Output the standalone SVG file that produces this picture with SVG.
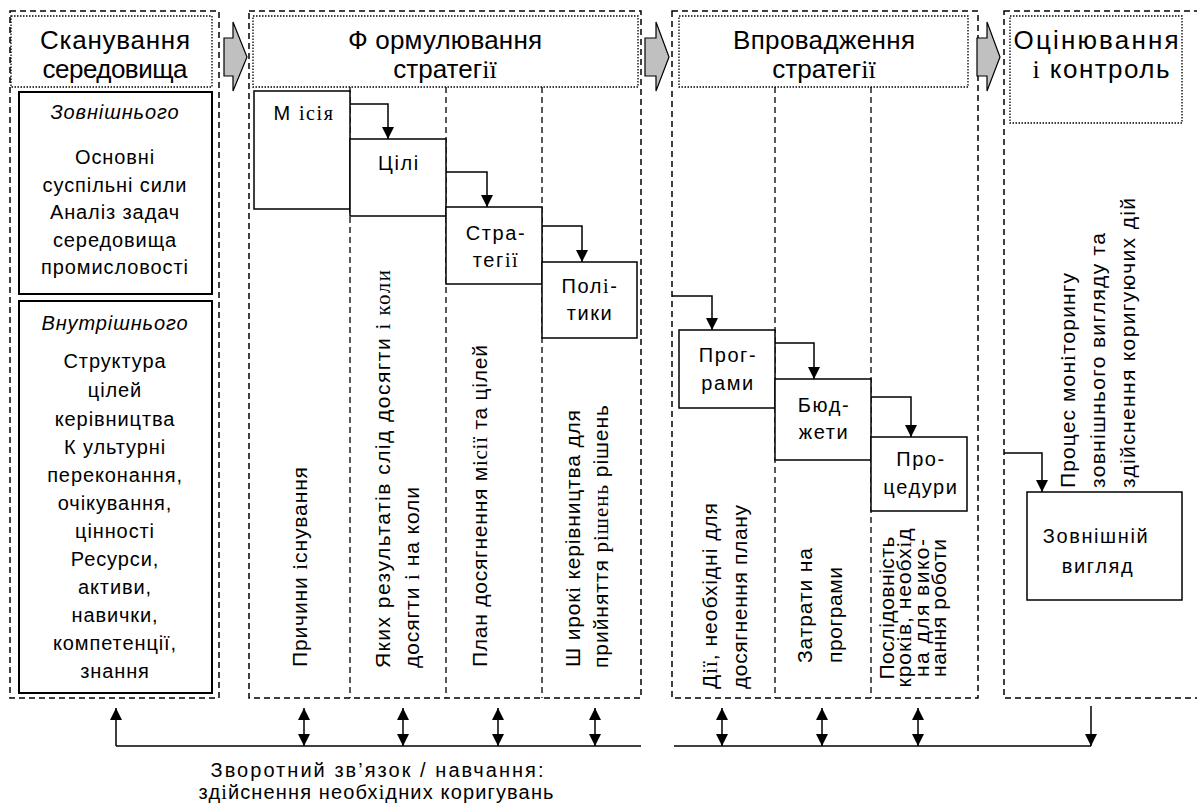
<svg xmlns="http://www.w3.org/2000/svg" width="1197" height="805" viewBox="0 0 1197 805">
<defs>
<style>
.dash{fill:none;stroke:#000;stroke-width:1.5;stroke-dasharray:6 4}
.dv{fill:none;stroke:#000;stroke-width:1.3;stroke-dasharray:6 4}
.dot{fill:none;stroke:#000;stroke-width:1.3;stroke-dasharray:1.5 1.5}
.box{fill:#fff;stroke:#000;stroke-width:1.5}
.dbl{fill:#fff;stroke:#000;stroke-width:2}
.t{font-family:"Liberation Sans",Arial,sans-serif;fill:#000}
.s{font-family:"Liberation Serif","Times New Roman",serif}
.title{font-size:26px;text-anchor:middle}
.bt{font-size:20px;text-anchor:middle;letter-spacing:0.9px}
.nb{font-size:20px;text-anchor:middle}
.lb{font-size:20px;text-anchor:middle;letter-spacing:1.6px}
.vt{font-size:21px}
.conn{fill:none;stroke:#000;stroke-width:1.5}
.blk{fill:#c0c0c0;stroke:#000;stroke-width:1.2;stroke-linejoin:miter}
</style>
<marker id="ah" viewBox="0 0 10 10" refX="10" refY="5" markerUnits="userSpaceOnUse" markerWidth="13" markerHeight="12" orient="auto-start-reverse">
<path d="M0,0 L10,5 L0,10 z" fill="#000"/>
</marker>
</defs>

<g id="stage-scan">
<rect class="dash" x="10" y="11" width="209" height="687"/>
<rect class="dot" x="11" y="16" width="201" height="71"/>
<text class="t title" x="115" y="49" textLength="150" lengthAdjust="spacing">Сканування</text>
<text class="t title" x="115" y="78" textLength="145" lengthAdjust="spacing">середовища</text>
</g>

<g id="scan-external">
<rect class="dbl" x="19" y="92" width="193" height="202"/>
<text class="t bt" x="115" y="119" font-style="italic">Зовнішнього</text>
<text class="t bt" x="115" y="164">Основні</text>
<text class="t bt" x="115" y="192">суспільні сили</text>
<text class="t bt" x="115" y="219">Аналіз задач</text>
<text class="t bt" x="115" y="247">середовища</text>
<text class="t bt" x="115" y="274">промисловості</text>
</g>

<g id="scan-internal">
<rect class="dbl" x="19" y="301" width="193" height="392"/>
<text class="t bt" x="115" y="330" font-style="italic">Внутрішнього</text>
<text class="t bt" x="115" y="368">Структура</text>
<text class="t bt" x="115" y="397">цілей</text>
<text class="t bt" x="115" y="426">керівництва</text>
<text class="t bt" x="115" y="454">К ультурні</text>
<text class="t bt" x="115" y="482">переконання,</text>
<text class="t bt" x="115" y="510">очікування,</text>
<text class="t bt" x="115" y="538">цінності</text>
<text class="t bt" x="115" y="566">Ресурси,</text>
<text class="t bt" x="115" y="594">активи,</text>
<text class="t bt" x="115" y="622">навички,</text>
<text class="t bt" x="115" y="650">компетенції,</text>
<text class="t bt" x="115" y="678">знання</text>
</g>

<g id="stage-formulation">
<rect class="dash" x="249" y="11" width="392" height="687"/>
<rect class="dot" x="253" y="16" width="385" height="71"/>
<text class="t title" x="445" y="49" textLength="194" lengthAdjust="spacing">Ф ормулювання</text>
<text class="t title" x="445" y="78">стратег<tspan class="s">ії</tspan></text>
<line class="dv" x1="350" y1="87" x2="350" y2="698"/>
<line class="dv" x1="446" y1="87" x2="446" y2="698"/>
<line class="dv" x1="542" y1="87" x2="542" y2="698"/>
<text class="t vt" transform="translate(307,667) rotate(-90)" textLength="200" lengthAdjust="spacing">Причини <tspan class="s">і</tspan>снування</text>
<text class="t vt" transform="translate(390,668) rotate(-90)" textLength="398" lengthAdjust="spacing">Яких результатів  слід  досягти <tspan class="s">і коли</tspan></text>
<text class="t vt" transform="translate(419,668) rotate(-90)" textLength="181" lengthAdjust="spacing">досягти <tspan class="s">і</tspan> на коли</text>
<text class="t vt" transform="translate(487,667) rotate(-90)" textLength="322" lengthAdjust="spacing">План досягнення м<tspan class="s">іс</tspan><tspan class="s">ії</tspan> та цілей</text>
<text class="t vt" transform="translate(580,667) rotate(-90)" textLength="257" lengthAdjust="spacing">Ш ирок<tspan class="s">і</tspan> керівництва для</text>
<text class="t vt" transform="translate(608,668) rotate(-90)" textLength="263" lengthAdjust="spacing">прийняття <tspan class="s">рішень</tspan> рішень</text>
</g>

<g id="mission">
<rect class="box" x="254" y="91" width="96" height="118"/>
<text class="t lb" x="304" y="120">М <tspan class="s">ісія</tspan></text>
</g>
<g id="goals">
<rect class="box" x="350" y="139" width="96" height="77"/>
<text class="t lb" x="399" y="170">Цілі</text>
</g>
<g id="strategies">
<rect class="box" x="446" y="207" width="96" height="77"/>
<text class="t lb" x="496" y="240">Стра-</text>
<text class="t lb" x="496" y="267">тег<tspan class="s">ії</tspan></text>
</g>
<g id="policies">
<rect class="box" x="542" y="262" width="95" height="76"/>
<text class="t lb" x="590" y="293">Пол<tspan class="s">і</tspan>-</text>
<text class="t lb" x="590" y="320">тики</text>
</g>

<g id="stage-implementation">
<rect class="dash" x="672" y="11" width="306" height="687"/>
<rect class="dot" x="679" y="16" width="289" height="71"/>
<text class="t title" x="824" y="49" textLength="182" lengthAdjust="spacing">Впровадження</text>
<text class="t title" x="824" y="78">стратег<tspan class="s">ії</tspan></text>
<line class="dv" x1="775" y1="87" x2="775" y2="698"/>
<line class="dv" x1="871" y1="87" x2="871" y2="698"/>
<text class="t vt" transform="translate(717,689) rotate(-90)" textLength="186" lengthAdjust="spacing">Д<tspan class="s">ії</tspan>,  необхідні для</text>
<text class="t vt" transform="translate(747,689) rotate(-90)" textLength="184" lengthAdjust="spacing">досягнення плану</text>
<text class="t vt" transform="translate(812,663) rotate(-90)" textLength="115" lengthAdjust="spacing">Затрати на</text>
<text class="t vt" transform="translate(842,663) rotate(-90)" textLength="96" lengthAdjust="spacing">програми</text>
<text class="t vt" text-anchor="middle" transform="translate(894,608) rotate(-90)" textLength="143" lengthAdjust="spacing">Послідовність</text>
<text class="t vt" text-anchor="middle" transform="translate(911,608) rotate(-90)" textLength="159" lengthAdjust="spacing">крок<tspan class="s">і</tspan>в, необх<tspan class="s">і</tspan>д</text>
<text class="t vt" text-anchor="middle" transform="translate(929,608) rotate(-90)" textLength="138" lengthAdjust="spacing">на для вико-</text>
<text class="t vt" text-anchor="middle" transform="translate(946,608) rotate(-90)" textLength="138" lengthAdjust="spacing">нання роботи</text>
</g>

<g id="programs">
<rect class="box" x="679" y="330" width="96" height="78"/>
<text class="t lb" x="728" y="362">Прог-</text>
<text class="t lb" x="728" y="390">рами</text>
</g>
<g id="budgets">
<rect class="box" x="775" y="379" width="96" height="81"/>
<text class="t lb" x="824" y="412">Бюд-</text>
<text class="t lb" x="824" y="439">жети</text>
</g>
<g id="procedures">
<rect class="box" x="871" y="437" width="96" height="74"/>
<text class="t lb" x="921" y="466">Про-</text>
<text class="t lb" x="921" y="494">цедури</text>
</g>

<g id="stage-evaluation">
<rect class="dash" x="1004" y="11" width="200" height="687"/>
<rect class="dot" x="1010" y="16" width="172" height="107"/>
<text class="t title" x="1096" y="49" textLength="165" lengthAdjust="spacing">Оцінювання</text>
<text class="t title" x="1101" y="78" textLength="137" lengthAdjust="spacing"><tspan class="s">і</tspan> контроль</text>
<text class="t vt" transform="translate(1075,488) rotate(-90)" textLength="215" lengthAdjust="spacing">Процес мон<tspan class="s">і</tspan>торингу</text>
<text class="t vt" transform="translate(1105,488) rotate(-90)" textLength="255" lengthAdjust="spacing">зовнішнього вигляду та</text>
<text class="t vt" transform="translate(1135,488) rotate(-90)" textLength="290" lengthAdjust="spacing">здійснення коригуючих дій</text>
</g>

<g id="performance">
<rect class="box" x="1027" y="492" width="155" height="108"/>
<text class="t lb" x="1096" y="543">Зовнішній</text>
<text class="t lb" x="1098" y="573">вигляд</text>
</g>

<g id="stage-arrows">
<path class="blk" d="M224,38 H233 V22 L247,57 L233,91 V76 H224 Z"/>
<path class="blk" d="M645,38 H656 V22 L669,57 L656,91 V76 H645 Z"/>
<path class="blk" d="M977,38 H987 V22 L1000,57 L987,91 V76 H977 Z"/>
</g>

<g id="connectors">
<path class="conn" d="M350,104 H388 V139" marker-end="url(#ah)"/>
<path class="conn" d="M446,172 H487 V207" marker-end="url(#ah)"/>
<path class="conn" d="M542,226 H582 V262" marker-end="url(#ah)"/>
<path class="conn" d="M672,296 H712 V330" marker-end="url(#ah)"/>
<path class="conn" d="M775,343 H814 V379" marker-end="url(#ah)"/>
<path class="conn" d="M871,397 H911 V437" marker-end="url(#ah)"/>
<path class="conn" d="M1004,453 H1042 V492" marker-end="url(#ah)"/>
<path class="conn" d="M116,746 H641" />
<path class="conn" d="M116,746 V708" marker-end="url(#ah)"/>
<path class="conn" d="M304,708 V746" marker-start="url(#ah)" marker-end="url(#ah)"/>
<path class="conn" d="M403,708 V746" marker-start="url(#ah)" marker-end="url(#ah)"/>
<path class="conn" d="M498,708 V746" marker-start="url(#ah)" marker-end="url(#ah)"/>
<path class="conn" d="M595,708 V746" marker-start="url(#ah)" marker-end="url(#ah)"/>
<path class="conn" d="M674,746 H1091"/>
<path class="conn" d="M722,708 V746" marker-start="url(#ah)" marker-end="url(#ah)"/>
<path class="conn" d="M822,708 V746" marker-start="url(#ah)" marker-end="url(#ah)"/>
<path class="conn" d="M918,708 V746" marker-start="url(#ah)" marker-end="url(#ah)"/>
<path class="conn" d="M1091,706 V746" marker-end="url(#ah)"/>
</g>

<g id="feedback-label">
<text class="t nb" x="377" y="777" textLength="333" lengthAdjust="spacing">Зворотний зв’язок /   навчання:</text>
<text class="t nb" x="376" y="799" textLength="355" lengthAdjust="spacing">зд<tspan class="s">і</tspan>йснення необх<tspan class="s">і</tspan>дних коригувань</text>
</g>
</svg>
